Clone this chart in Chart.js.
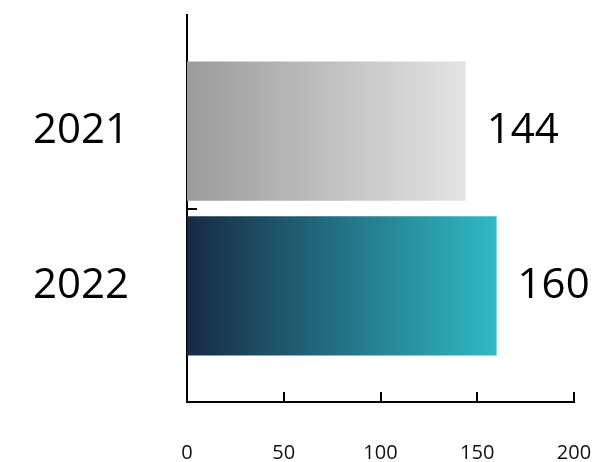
<!DOCTYPE html>
<html>
<head>
<meta charset="utf-8">
<script src="https://cdn.jsdelivr.net/npm/chart.js@4/dist/chart.umd.min.js"></script>
<style>
  html, body { margin: 0; padding: 0; background: #fff; }
  #wrap { width: 594px; height: 462px; }
</style>
</head>
<body>
<div id="wrap"><canvas id="chart"></canvas></div>
<script>
// chart data
const categories = ['2021', '2022'];
const values = [144, 160];
const xTicks = [0, 50, 100, 150, 200];
const gradientStops = [
  ['#9b9b9b', '#e4e4e4'],
  ['#172a45', '#2fbac4']
];

const FONT = "'Open Sans', 'DejaVu Sans', sans-serif";

// gradient per bar, from the axis to the end of the bar
function barGradient(ctx) {
  const chart = ctx.chart;
  const area = chart.chartArea;
  if (!area) return gradientStops[ctx.dataIndex][0];
  const xScale = chart.scales.x;
  const x0 = xScale.getPixelForValue(0);
  const x1 = xScale.getPixelForValue(values[ctx.dataIndex]);
  const g = chart.ctx.createLinearGradient(x0, 0, x1, 0);
  g.addColorStop(0, gradientStops[ctx.dataIndex][0]);
  g.addColorStop(1, gradientStops[ctx.dataIndex][1]);
  return g;
}

// short tick marks pointing into the plot + value labels
const extras = {
  id: 'extras',
  afterDraw(chart) {
    const c = chart.ctx;
    const xs = chart.scales.x, ys = chart.scales.y;
    const area = chart.chartArea;
    c.save();
    c.strokeStyle = '#000';
    c.lineWidth = 2;
    xTicks.forEach(t => {
      const px = Math.round(xs.getPixelForValue(t));
      c.beginPath();
      c.moveTo(px, area.bottom);
      c.lineTo(px, area.bottom - 10);
      c.stroke();
    });
    // tick between the two categories
    const py = Math.round(ys.getPixelForValue(0.5));
    c.beginPath();
    c.moveTo(area.left, py);
    c.lineTo(area.left + 10, py);
    c.stroke();

    c.fillStyle = '#000';
    c.font = '42px ' + FONT;
    c.textAlign = 'left';
    c.textBaseline = 'middle';
    values.forEach((v, i) => {
      const x = xs.getPixelForValue(v) + 21;
      const y = ys.getPixelForValue(i);
      c.fillText(String(v), x, y);
    });
    c.restore();
  }
};

new Chart(document.getElementById('chart'), {
  type: 'bar',
  data: {
    datasets: [{
      data: values.map((v, i) => ({ x: v, y: i })),
      backgroundColor: barGradient,
      borderWidth: 0,
      barPercentage: 0.9,
      categoryPercentage: 1
    }]
  },
  options: {
    indexAxis: 'y',
    responsive: true,
    maintainAspectRatio: false,
    animation: false,
    layout: { padding: { top: 15, right: 20, left: 0, bottom: 0 } },
    plugins: { legend: { display: false }, tooltip: { enabled: false } },
    scales: {
      x: {
        type: 'linear',
        min: 0,
        max: 200,
        offset: false,
        afterBuildTicks: s => { s.ticks = xTicks.map(v => ({ value: v })); },
        afterFit: s => { s.height = 60; s.paddingLeft = 0; s.paddingRight = 0; },
        grid: { display: false, drawTicks: false },
        border: { display: true, color: '#000', width: 2 },
        ticks: {
          color: '#111',
          padding: 39,
          maxRotation: 0,
          font: { family: FONT, size: 20 }
        }
      },
      y: {
        type: 'linear',
        reverse: true,
        min: -0.75,
        max: 1.75,
        offset: false,
        afterBuildTicks: s => { s.ticks = categories.map((c, i) => ({ value: i })); },
        afterFit: s => { s.width = 187; s.paddingTop = 0; s.paddingBottom = 0; },
        grid: { display: false, drawTicks: false, offset: false },
        border: { display: true, color: '#000', width: 2 },
        ticks: {
          color: '#000',
          padding: 58,
          font: { family: FONT, size: 42 },
          callback: v => categories[v]
        }
      }
    }
  },
  plugins: [extras]
});
</script>
</body>
</html>
